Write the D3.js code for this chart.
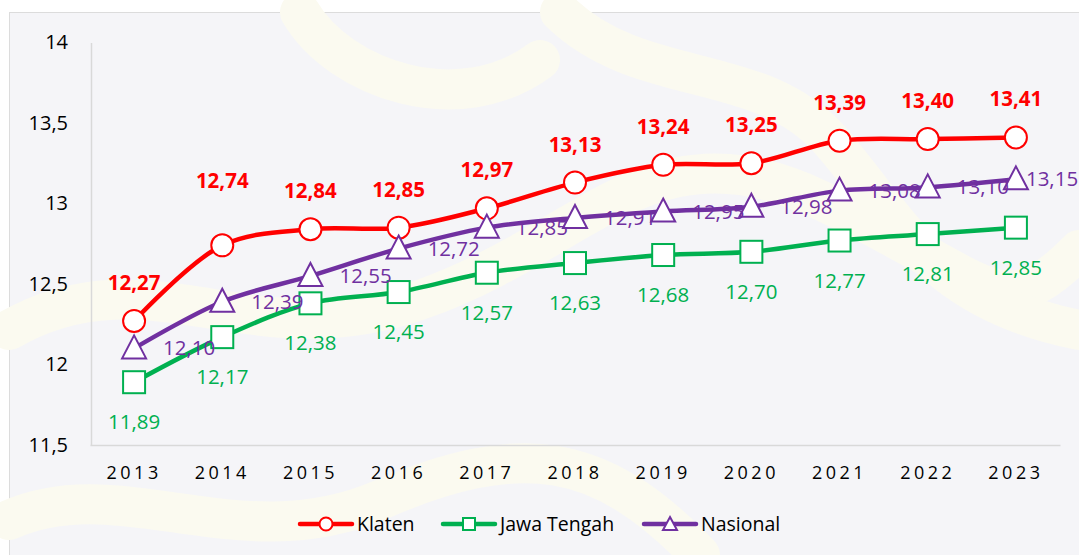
<!DOCTYPE html>
<html>
<head>
<meta charset="utf-8">
<script src="https://cdn.jsdelivr.net/npm/d3@7"></script>
<style>
  body { margin: 0; background: #ffffff; }
  svg text { font-family: "Open Sans", "Liberation Sans", sans-serif; }
</style>
</head>
<body>
<div id="chart"></div>
<script>
// values
var years = ["2013", "2014", "2015", "2016", "2017", "2018", "2019", "2020", "2021", "2022", "2023"];
var klaten = [12.27, 12.74, 12.84, 12.85, 12.97, 13.13, 13.24, 13.25, 13.39, 13.40, 13.41];
var jawaTengah = [11.89, 12.17, 12.38, 12.45, 12.57, 12.63, 12.68, 12.70, 12.77, 12.81, 12.85];
var nasional = [12.10, 12.39, 12.55, 12.72, 12.85, 12.91, 12.95, 12.98, 13.08, 13.10, 13.15];
var yTicks = [11.5, 12, 12.5, 13, 13.5, 14];
var seriesNames = ["Klaten", "Jawa Tengah", "Nasional"];

w = 1079, h = 555;

var locale = d3.formatLocale({decimal: ",", thousands: ".", grouping: [3], currency: ["", ""]});
var fmt2 = locale.format(".2f");
var fmtTick = locale.format("~f");

svg = d3.select("#chart")
    .append("svg")
    .attr("width", w)
    .attr("height", h);

// frame + faint background
svg.append("rect")
   .attr("x", 9.5).attr("y", 12.5)
   .attr("width", w).attr("height", h)
   .attr("fill", "#f5f5f8")
   .attr("stroke", "#dcdcdc");

// pale decorative swirls like the slide template
var swirls = [
    "M 9 330 C 150 250, 250 360, 420 300 S 650 120, 820 200 S 1000 330, 1079 250",
    "M 560 12 C 640 90, 760 60, 830 140 S 930 300, 1079 330",
    "M 9 520 C 120 470, 240 560, 380 500 S 600 450, 700 555",
    "M 300 12 C 340 80, 460 120, 540 60"
];
svg.selectAll("path.swirl")
   .data(swirls)
   .enter()
   .append("path")
   .attr("class", "swirl")
   .attr("d", function(d){ return d; })
   .attr("fill", "none")
   .attr("stroke", "#fbfaf0")
   .attr("stroke-width", 40)
   .attr("stroke-linecap", "round");

xScale = d3.scaleBand()
    .domain(years)
    .range([90, 1060]);
yScale = d3.scaleLinear()
    .domain([11.5, 14])
    .range([445, 42.5]);

function cx(i){ return xScale(years[i]) + xScale.bandwidth() / 2; }

// y axis
var yAxis = svg.append("g")
   .attr("transform", "translate(91, 0)")
   .call(d3.axisLeft(yScale).tickValues(yTicks).tickSize(0).tickPadding(23).tickFormat(fmtTick));
yAxis.select(".domain").attr("stroke", "#d9d9d9").attr("stroke-width", 1.5);
yAxis.selectAll("text")
   .attr("font-size", 20)
   .attr("fill", "#000");

// x axis
var xAxis = svg.append("g")
   .attr("transform", "translate(0, 445)")
   .call(d3.axisBottom(xScale).tickSize(0).tickPadding(21));
xAxis.select(".domain").attr("stroke", "#d9d9d9").attr("stroke-width", 1.5);
xAxis.selectAll("text")
   .attr("font-size", 18)
   .attr("letter-spacing", "3.5px")
   .attr("fill", "#000");

var series = [
    {name: seriesNames[0], values: klaten, color: "#ff0000", marker: "circle"},
    {name: seriesNames[1], values: jawaTengah, color: "#00b050", marker: "square"},
    {name: seriesNames[2], values: nasional, color: "#7030a0", marker: "triangle"}
];

var line = d3.line()
    .x(function(d, i){ return cx(i); })
    .y(function(d){ return yScale(d); })
    .curve(d3.curveCatmullRom.alpha(0.5));

function drawMarker(g, type, color, x, y){
    if (type == "circle") {
        g.append("circle").attr("cx", x).attr("cy", y).attr("r", 11)
         .attr("fill", "#fff").attr("stroke", color).attr("stroke-width", 2);
    } else if (type == "square") {
        g.append("rect").attr("x", x - 11).attr("y", y - 11).attr("width", 22).attr("height", 22)
         .attr("fill", "#fff").attr("stroke", color).attr("stroke-width", 2);
    } else {
        g.append("path")
         .attr("d", "M" + x + "," + (y - 13) + " L" + (x + 12) + "," + (y + 10) + " L" + (x - 12) + "," + (y + 10) + " Z")
         .attr("fill", "#fff").attr("stroke", color).attr("stroke-width", 2);
    }
}

series.forEach(function(s){
    svg.append("path")
       .attr("d", line(s.values))
       .attr("fill", "none")
       .attr("stroke", s.color)
       .attr("stroke-width", 4.5)
       .attr("stroke-linecap", "round");
});

series.forEach(function(s){
    var g = svg.append("g");
    s.values.forEach(function(v, i){
        drawMarker(g, s.marker, s.color, cx(i), yScale(v));
    });
});

// data labels
svg.selectAll("text.lbl-k")
   .data(klaten)
   .enter()
   .append("text")
   .attr("x", function(d, i){ return cx(i); })
   .attr("y", function(d, i){ return yScale(d) - (i == 1 ? 57 : 31); })
   .attr("text-anchor", "middle")
   .attr("font-size", 20.5)
   .attr("font-weight", "bold")
   .attr("fill", "#ff0000")
   .text(function(d){ return fmt2(d); });

svg.selectAll("text.lbl-j")
   .data(jawaTengah)
   .enter()
   .append("text")
   .attr("x", function(d, i){ return cx(i); })
   .attr("y", function(d){ return yScale(d) + 47; })
   .attr("text-anchor", "middle")
   .attr("font-size", 20.5)
   .attr("fill", "#00b050")
   .text(function(d){ return fmt2(d); });

// last Nasional label sits closer to its marker so it stays in frame
svg.selectAll("text.lbl-n")
   .data(nasional)
   .enter()
   .append("text")
   .attr("x", function(d, i){ return cx(i) + (i == nasional.length - 1 ? 10 : 29); })
   .attr("y", function(d){ return yScale(d) + 7; })
   .attr("text-anchor", "start")
   .attr("font-size", 20.5)
   .attr("fill", "#7030a0")
   .text(function(d){ return fmt2(d); });

// legend
var legendX = [300, 443, 644];
var lg = svg.append("g");
series.forEach(function(s, i){
    var x0 = legendX[i], y0 = 524;
    lg.append("line")
      .attr("x1", x0).attr("x2", x0 + 52)
      .attr("y1", y0).attr("y2", y0)
      .attr("stroke", s.color).attr("stroke-width", 4.5)
      .attr("stroke-linecap", "round");
    var mg = lg.append("g");
    if (s.marker == "circle") {
        mg.append("circle").attr("cx", x0 + 26).attr("cy", y0).attr("r", 6.5)
          .attr("fill", "#fff").attr("stroke", s.color).attr("stroke-width", 2);
    } else if (s.marker == "square") {
        mg.append("rect").attr("x", x0 + 20).attr("y", y0 - 6).attr("width", 12).attr("height", 12)
          .attr("fill", "#fff").attr("stroke", s.color).attr("stroke-width", 2);
    } else {
        mg.append("path")
          .attr("d", "M" + (x0 + 26) + "," + (y0 - 7) + " L" + (x0 + 33) + "," + (y0 + 6) + " L" + (x0 + 19) + "," + (y0 + 6) + " Z")
          .attr("fill", "#fff").attr("stroke", s.color).attr("stroke-width", 2);
    }
    lg.append("text")
      .attr("x", x0 + 57)
      .attr("y", y0 + 7)
      .attr("font-size", 19.5)
      .attr("fill", "#000")
      .text(s.name);
});
</script>
</body>
</html>
